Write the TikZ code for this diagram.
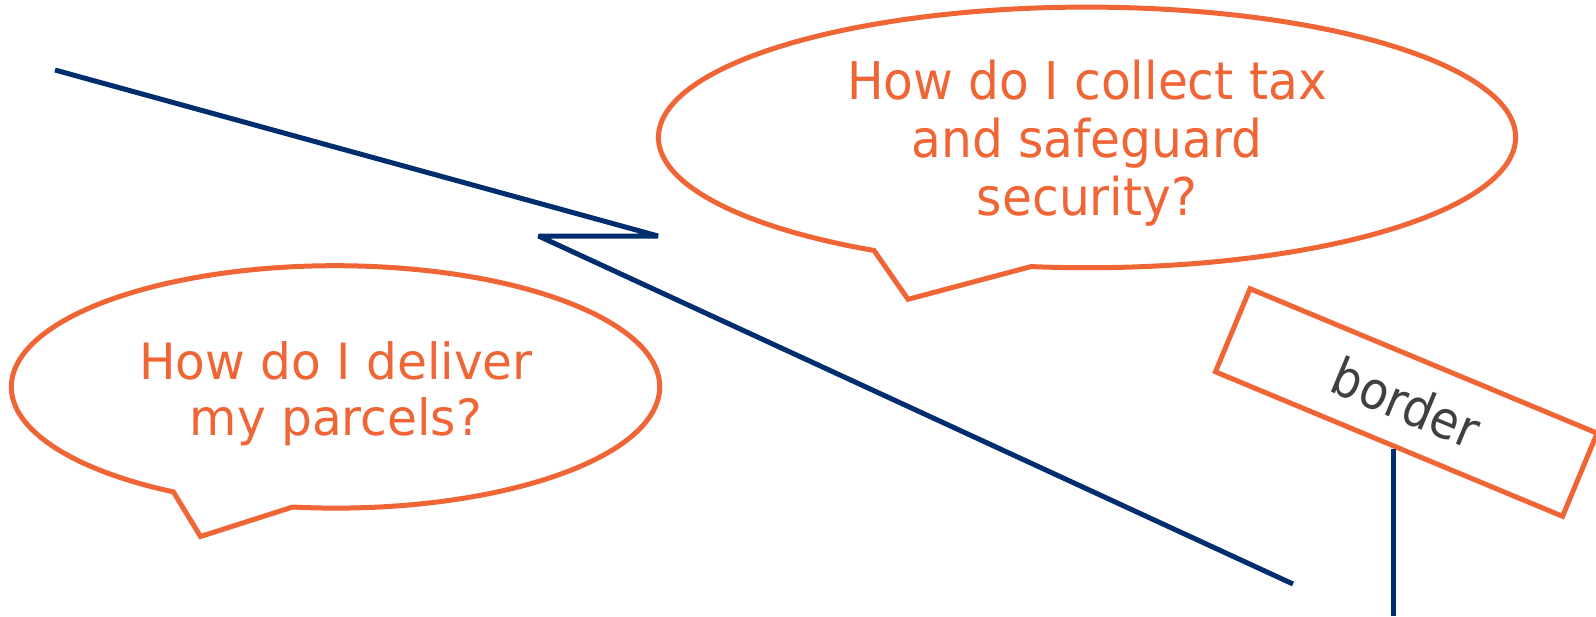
\documentclass[tikz,border=0pt]{standalone}
\usepackage{fontspec}
\newfontfamily\bubblefont[FakeStretch=1.04]{DejaVu Sans Condensed}
\newfontfamily\bubblefontwide[FakeStretch=1.08]{DejaVu Sans Condensed}
\newfontfamily\signfont{DejaVu Sans Condensed}
\usetikzlibrary{calc}
\definecolor{bubbleorange}{RGB}{240,101,54}
\definecolor{navyline}{RGB}{0,45,110}
\definecolor{signgray}{RGB}{64,64,64}
\begin{document}
\begin{tikzpicture}[x=0.5pt,y=-0.5pt,
  bubble/.style={draw=bubbleorange,line width=2.5pt,line join=miter},
  question/.style={text=bubbleorange,font=\bubblefont\fontsize{26}{29}\selectfont,align=center,inner sep=0pt},
  navy/.style={draw=navyline,line width=2.5pt,line join=bevel},
  signbox/.style={draw=bubbleorange,line width=2.5pt,minimum width=188pt,minimum height=45pt,inner sep=0pt,rotate=-22.6,text=signgray,font=\signfont\fontsize{26}{29}\selectfont}]
\useasboundingbox (0,0) rectangle (1596,616);
% navy zigzag
\coordinate (n1) at (55,70);
\coordinate (n2) at (658,236);
\coordinate (n3) at (538.5,236);
\coordinate (n4) at (1293,584);
\draw[navy] (n1) -- (n2) -- (n3) -- (n4);
% top bubble
\coordinate (c1) at (1087,137.4);
\coordinate (t1) at (908,299.3);
\draw[bubble] (c1) ++(97.5:428.6 and 130.3) arc[start angle=97.5,end angle=-240.2,x radius=428.6,y radius=130.3] -- (t1) -- cycle;
\node[question] (q1) at (1087,143) {How do I collect tax\\and safeguard\\security?};
% left bubble
\coordinate (c2) at (335.5,386.9);
\coordinate (t2) at (200.5,536.5);
\draw[bubble] (c2) ++(97.6:324.2 and 121.2) arc[start angle=97.6,end angle=-240,x radius=324.2,y radius=121.2] -- (t2) -- cycle;
\node[question,font=\bubblefontwide\fontsize{25}{28}\selectfont] (q2) at (336,394) {How do I deliver\\my parcels?};
% border sign
\node[signbox] (sign) at (1406.3,402.5) {border};
\coordinate (cut) at ($(sign.south west)!0.516!(sign.south east)$);
\coordinate (post) at (cut |- 0,616);
\draw[navy] (cut) -- (post);
\end{tikzpicture}
\end{document}
